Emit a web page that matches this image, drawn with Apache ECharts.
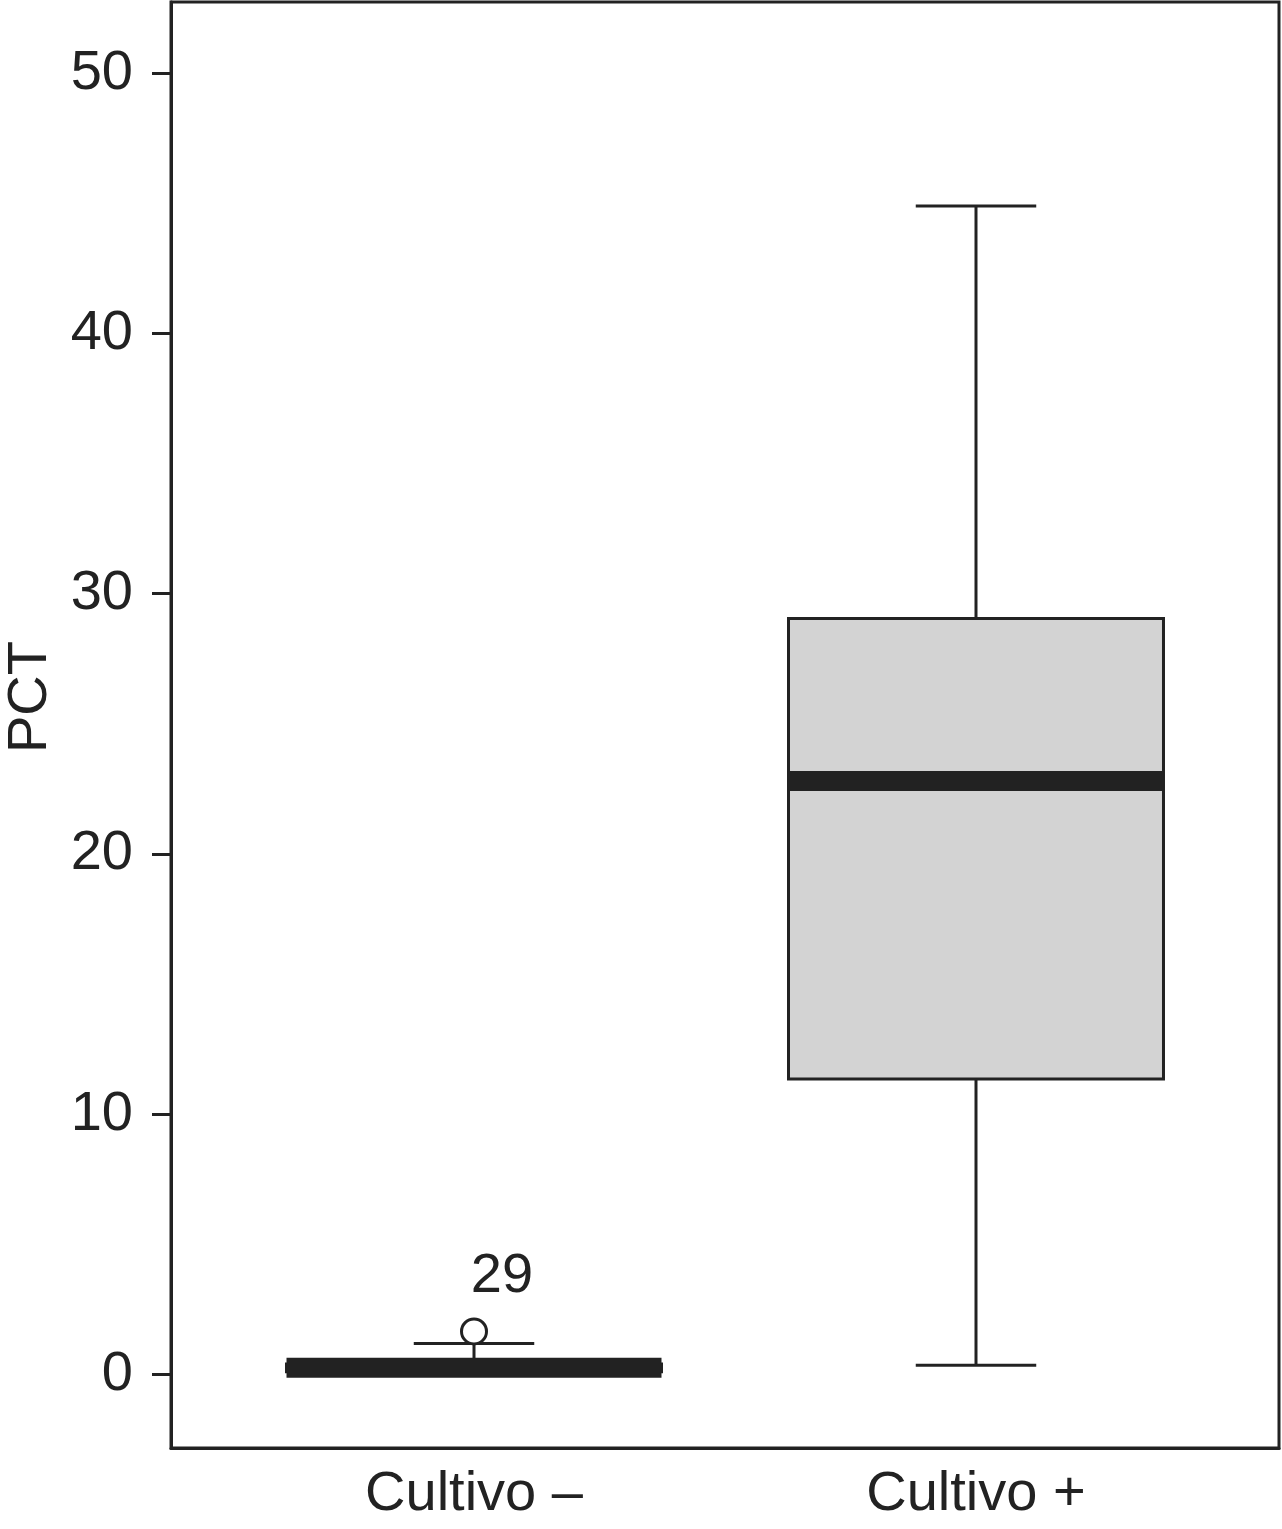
<!DOCTYPE html>
<html>
<head>
<meta charset="utf-8">
<script src="https://cdn.jsdelivr.net/npm/echarts@6/dist/echarts.min.js"></script>
<style>
  html, body { margin: 0; padding: 0; background: #fff; }
  #chart { width: 1282px; height: 1529px; }
</style>
</head>
<body>
<div id="chart"></div>
<script>
// ---- data ----
var categories = ['Cultivo \u2013', 'Cultivo +'];
var positions = [1, 2];
var whiskerLow = [0.05, 0.35];
var q1Values = [0.1, 11.35];
var medianValues = [0.25, 22.8];
var q3Values = [0.4, 29.05];
var whiskerHigh = [1.19, 44.9];
var outlierPos = [1];
var outlierValues = [1.65];
var outlierLabels = ['29'];
var yTicks = [0, 10, 20, 30, 40, 50];

var ink = '#222222';
var boxData = positions.map(function (p, i) {
  return [p, whiskerLow[i], q1Values[i], medianValues[i], q3Values[i], whiskerHigh[i]];
});
var outlierData = outlierPos.map(function (p, i) {
  return { value: [p, outlierValues[i]], label: outlierLabels[i] };
});

var boxHalf = 0.3735;
var capHalf = 0.12;

function renderBox(params, api) {
  var x = api.value(0);
  var lo = api.coord([x, api.value(1)]);
  var q1 = api.coord([x, api.value(2)]);
  var med = api.coord([x, api.value(3)]);
  var q3 = api.coord([x, api.value(4)]);
  var hi = api.coord([x, api.value(5)]);
  var left = api.coord([x - boxHalf, 0])[0];
  var right = api.coord([x + boxHalf, 0])[0];
  var cl = api.coord([x - capHalf, 0])[0];
  var cr = api.coord([x + capHalf, 0])[0];
  var cx = lo[0];
  var lineStyle = { stroke: ink, lineWidth: 3, fill: null };
  return {
    type: 'group',
    children: [
      { type: 'line', shape: { x1: cx, y1: q3[1], x2: cx, y2: hi[1] }, style: lineStyle },
      { type: 'line', shape: { x1: cx, y1: q1[1], x2: cx, y2: lo[1] }, style: lineStyle },
      { type: 'line', shape: { x1: cl, y1: hi[1], x2: cr, y2: hi[1] }, style: lineStyle },
      { type: 'line', shape: { x1: cl, y1: lo[1], x2: cr, y2: lo[1] }, style: lineStyle },
      { type: 'rect', shape: { x: left, y: q3[1], width: right - left, height: q1[1] - q3[1] },
        style: { fill: '#d3d3d3', stroke: ink, lineWidth: 3 } },
      { type: 'rect', shape: { x: left, y: med[1] - 10, width: right - left, height: 20 },
        style: { fill: ink } }
    ]
  };
}

var chart = echarts.init(document.getElementById('chart'), null, { renderer: 'canvas' });
chart.setOption({
  animation: false,
  backgroundColor: '#ffffff',
  textStyle: { fontFamily: 'Liberation Sans, Arial, sans-serif' },
  grid: {
    left: 171, right: 3, top: 2, bottom: 81,
    containLabel: false,
    outerBoundsMode: 'none',
    show: true, borderColor: ink, borderWidth: 3, backgroundColor: 'transparent'
  },
  xAxis: {
    type: 'value',
    min: 0.3964, max: 2.6036,
    splitLine: { show: false },
    axisLine: { show: true, onZero: false, lineStyle: { color: ink, width: 3 } },
    axisTick: { show: false },
    axisLabel: {
      customValues: positions,
      formatter: function (v) { return categories[positions.indexOf(Math.round(v))] || ''; },
      fontSize: 56, color: ink, margin: 19,
      fontFamily: 'Liberation Sans, Arial, sans-serif'
    }
  },
  yAxis: {
    type: 'value',
    min: -2.83, max: 52.74,
    name: 'PCT',
    nameLocation: 'middle',
    nameRotate: 90,
    nameGap: 112,
    nameTextStyle: { fontSize: 56, color: ink, padding: [0, 0, 0, 56],
      fontFamily: 'Liberation Sans, Arial, sans-serif' },
    splitLine: { show: false },
    axisLine: { show: true, onZero: false, lineStyle: { color: ink, width: 3 } },
    axisTick: { show: true, customValues: yTicks, length: 19, lineStyle: { color: ink, width: 3 } },
    axisLabel: {
      customValues: yTicks,
      fontSize: 56, color: ink, margin: 38,
      fontFamily: 'Liberation Sans, Arial, sans-serif'
    }
  },
  series: [
    {
      type: 'custom',
      renderItem: renderBox,
      data: boxData,
      encode: { x: 0, y: [1, 2, 3, 4, 5] },
      z: 2
    },
    {
      type: 'scatter',
      data: outlierData,
      symbol: 'circle',
      symbolSize: 25,
      itemStyle: { color: '#ffffff', borderColor: ink, borderWidth: 3, opacity: 1 },
      label: {
        show: true,
        formatter: function (p) { return p.data.label; },
        position: 'top',
        offset: [28, -8],
        fontSize: 56, color: ink, opacity: 1,
        textBorderWidth: 0,
        fontFamily: 'Liberation Sans, Arial, sans-serif'
      },
      emphasis: { disabled: true },
      z: 3
    }
  ]
});
</script>
</body>
</html>
